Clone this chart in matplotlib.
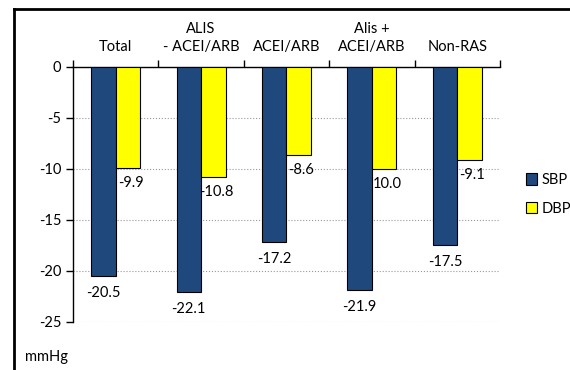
import numpy as np
import matplotlib.pyplot as plt
from matplotlib.lines import Line2D

plt.rcParams['font.family'] = ['Lato', 'DejaVu Sans']

categories = ['Total', 'ALIS\n- ACEI/ARB', 'ACEI/ARB', 'Alis +\nACEI/ARB', 'Non-RAS']
sbp = [-20.5, -22.1, -17.2, -21.9, -17.5]
dbp = [-9.9, -10.8, -8.6, -10.0, -9.1]
sbp_labels = ['-20.5', '-22.1', '-17.2', '-21.9', '-17.5']
dbp_labels = ['-9.9', '-10.8', '-8.6', '10.0', '-9.1']

fs = 10.5
fig = plt.figure(figsize=(5.7, 3.7), dpi=100)
ax = fig.add_axes([0.128, 0.13, 0.749, 0.689])

x = np.arange(len(categories))
w = 0.287
ax.bar(x - w / 2, sbp, w, color='#1F497D', edgecolor='black', linewidth=0.8, label='SBP', zorder=3)
ax.bar(x + w / 2, dbp, w, color='#FFFF00', edgecolor='black', linewidth=0.8, label='DBP', zorder=3)

for xi, v, t in zip(x, sbp, sbp_labels):
    ax.annotate(t, (xi - w / 2, v), xytext=(0, -12), textcoords='offset points',
                ha='center', va='center', fontsize=fs)
for xi, v, t in zip(x, dbp, dbp_labels):
    ax.annotate(t, (xi + w / 2, v), xytext=(2, -11), textcoords='offset points',
                ha='center', va='center', fontsize=fs)

# category names above the plot
for xi, c in zip(x, categories):
    ax.text(xi, 1.05, c, transform=ax.get_xaxis_transform(), ha='center', va='bottom',
            fontsize=fs, linespacing=1.4)

ax.set_xlim(-0.5, len(categories) - 0.5)
ax.set_ylim(-25, 0)
ax.set_yticks([0, -5, -10, -15, -20, -25])
ax.set_yticklabels(['0', '-5', '-10', '-15', '-20', '-25'], fontsize=fs)
ax.yaxis.grid(True, color='#999999', linestyle=':', linewidth=0.8, zorder=0)
ax.tick_params(axis='y', length=5, width=1)

# category boundary ticks on the zero line, pointing up
ax.set_xticks(np.arange(-0.5, len(categories), 1.0))
ax.set_xticklabels([])
ax.tick_params(axis='x', direction='in', length=5, width=1, top=False, bottom=True)

for s in ['top', 'right']:
    ax.spines[s].set_visible(False)
ax.spines['bottom'].set_position(('data', 0))
ax.spines['bottom'].set_linewidth(1)
ax.spines['left'].set_linewidth(1)

ax.legend(loc='center left', bbox_to_anchor=(1.03, 0.5), frameon=False, fontsize=fs,
          handlelength=0.8, handleheight=0.8, handletextpad=0.3, labelspacing=1.0)

fig.text(25 / 570, 1 - 357 / 370, 'mmHg', fontsize=fs, va='center', ha='left')

fig.add_artist(Line2D([13.5 / 570, 13.5 / 570], [0, 1 - 8.5 / 370], color='black', lw=2, transform=fig.transFigure))
fig.add_artist(Line2D([13.5 / 570, 1], [1 - 8.5 / 370, 1 - 8.5 / 370], color='black', lw=2, transform=fig.transFigure))

fig.savefig('out.png', dpi=100)
